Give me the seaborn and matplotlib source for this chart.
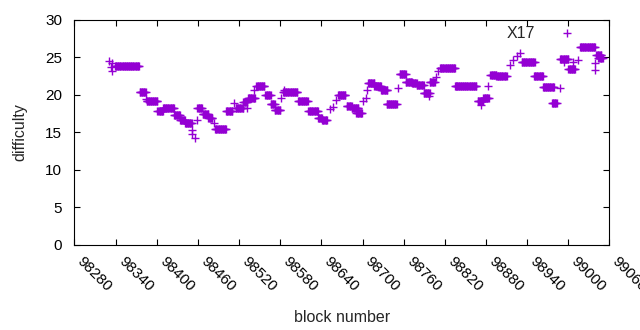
import numpy as np
import pandas as pd
import seaborn as sns
import matplotlib
matplotlib.use('Agg')
import matplotlib.pyplot as plt

# runs of blocks that kept the same difficulty (first block, last block, difficulty)
run_start = [98339, 98375, 98385, 98401, 98409, 98425, 98434, 98441, 98459, 98467,
             98475, 98485, 98501, 98515, 98526, 98533, 98545, 98558, 98566, 98572,
             98584, 98606, 98621, 98635, 98641, 98664, 98677, 98684, 98691, 98708,
             98717, 98727, 98735, 98754, 98763, 98772, 98779, 98789, 98798, 98813,
             98835, 98868, 98876, 98886, 98895, 98932, 98950, 98963, 98976, 98988,
             99000, 99017, 99041, 99044]
run_end = [98374, 98384, 98401, 98409, 98425, 98434, 98441, 98451, 98466, 98475,
           98481, 98501, 98510, 98526, 98532, 98543, 98557, 98566, 98572, 98580,
           98605, 98620, 98635, 98641, 98648, 98675, 98684, 98694, 98699, 98717,
           98727, 98736, 98750, 98763, 98772, 98779, 98789, 98798, 98805, 98835,
           98866, 98876, 98884, 98895, 98910, 98951, 98963, 98979, 98983, 99000,
           99010, 99039, 99048, 99050]
run_diff = [23.8, 20.3, 19.1, 17.9, 18.2, 17.3, 16.7, 16.2, 18.2, 17.4,
            16.9, 15.5, 17.9, 18.3, 19.0, 19.6, 21.2, 19.9, 18.7, 18.0,
            20.4, 19.2, 17.8, 16.9, 16.6, 19.9, 18.5, 18.2, 17.6, 21.5,
            21.1, 20.6, 18.7, 22.7, 21.7, 21.5, 21.3, 20.2, 21.7, 23.5,
            21.1, 19.1, 19.5, 22.6, 22.5, 24.3, 22.5, 21.0, 18.9, 24.8,
            23.4, 26.3, 25.3, 24.9]

# single blocks
pt_block = [98331, 98333, 98335, 98335, 98384, 98451, 98452, 98456, 98459, 98484,
            98513, 98532, 98542, 98581, 98586, 98652, 98657, 98662, 98701, 98705,
            98707, 98752, 98797, 98807, 98810, 98836, 98873, 98883, 98915, 98920,
            98925, 98929, 98988, 98993, 99007, 99014, 99039, 99039]
pt_diff = [24.5, 23.7, 24.2, 23.1, 19.4, 15.3, 14.8, 14.3, 16.6, 16.3,
           18.9, 18.2, 20.6, 19.5, 20.6, 18.1, 18.4, 19.3, 19.1, 19.5,
           20.6, 20.9, 19.8, 22.4, 23.1, 21.1, 18.6, 21.2, 24.0, 24.6,
           25.2, 25.6, 20.9, 24.3, 24.4, 24.6, 24.2, 23.3]

blocks = list(pt_block)
diffs = list(pt_diff)
for a, b, d in zip(run_start, run_end, run_diff):
    for blk in range(a, b + 1):
        blocks.append(blk)
        diffs.append(d)
df = pd.DataFrame({'block': blocks, 'difficulty': diffs}).sort_values('block')

sns.set_style('ticks')
plt.rcParams['font.family'] = ['Liberation Sans', 'DejaVu Sans']

fig = plt.figure(figsize=(6.4, 3.3), dpi=100)
ax = fig.add_axes([0.1164, 0.2576, 0.8359, 0.683])

sns.scatterplot(data=df, x='block', y='difficulty', marker='+', color='#9400d3',
                s=38, linewidth=1.0, label='X17', ax=ax)

ax.set_xlim(98280, 99060)
ax.set_ylim(0, 30)
ax.set_xticks(np.arange(98280, 99061, 60))
ax.set_yticks(np.arange(0, 31, 5))
ax.tick_params(direction='in', top=True, right=True, length=4, width=0.8,
               labelsize=11, colors='black')
ax.tick_params(axis='y', pad=9)
ax.tick_params(axis='x', pad=14)
for lbl in ax.get_xticklabels():
    lbl.set_rotation(-45)
    lbl.set_ha('left')
    lbl.set_va('bottom')
    lbl.set_rotation_mode('anchor')
for sp in ax.spines.values():
    sp.set_visible(True)
    sp.set_color('black')
    sp.set_linewidth(0.8)

ax.set_xlabel('block number', fontsize=11.5, labelpad=11)
ax.set_ylabel('difficulty', fontsize=11.5, labelpad=13)

ax.legend(loc='upper right', bbox_to_anchor=(0.975, 1.03), frameon=False,
          markerfirst=False, fontsize=11.5, handletextpad=1.0, borderpad=0.3)

fig.savefig('out.png', dpi=100)
